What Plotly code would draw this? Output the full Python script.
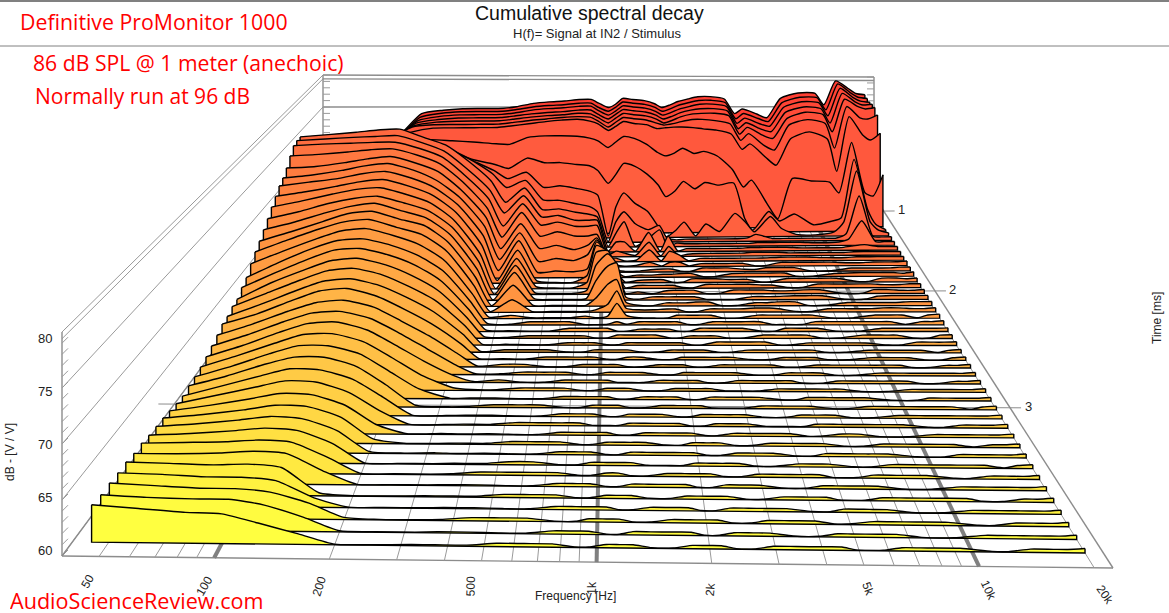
import math
import plotly.graph_objects as go

FREQ_HZ = [45,60,80,100,125,160,200,250,320,370,450,540,640,760,870,950,1060,1150,1250,1400,1600,1800,1950,2150,2350,2650,2950,3400,4000,4500,4900,5800,6500,7600,9300,11300,12500,14300,16500,18000,20000]
TIME_MS = [.78,.844,.909,.973,1.037,1.102,1.166,1.23,1.294,1.359,1.423,1.487,1.552,1.616,1.68,1.745,1.809,1.873,1.937,2.002,2.066,2.13,2.195,2.259,2.323,2.388,2.452,2.516,2.58,2.645,2.709,2.773,2.838,2.902,2.966,3.031,3.095,3.159,3.223,3.288,3.352,3.416,3.481,3.545,3.609,3.674,3.738,3.802,3.866,3.931]
DB_FLOOR = 60
# level above 60 dB, one list per time slice, back to front
S00=[4,6,8.5,11,13.9,14.4,14.6,14.6,14.6,14.8,15.3,15.5,15.6,15.8,15.8,15.2,14.5,15,15.9,15.7,15.5,15,14.4,14.8,15.3,15.7,16,16,15.6,13.3,14,13.2,12.6,15.6,16.4,16.3,14.5,18.2,17,16.2,16]
S01=[4,6,8.4,10.9,13.8,14.4,14.6,14.6,14.6,14.8,15.2,15.4,15.5,15.7,15.7,15,14.4,15,15.8,15.6,15.4,14.9,14.3,14.7,15.2,15.6,15.9,15.9,15.5,13,13.8,13,12.5,15.4,16.2,16.1,14.2,18.2,16.8,16.1,15.9]
S02=[4.5,6.5,8.8,11.2,13.8,14.4,14.6,14.6,14.6,14.8,15.2,15.4,15.5,15.7,15.7,15,14.3,14.9,15.7,15.5,15.3,14.8,14.2,14.6,15.1,15.5,15.8,15.8,15.4,12.8,13.6,12.7,12.3,15.2,16,15.8,13.8,18,16.6,16,15.8]
S03=[5,7,9.2,11.6,13.9,14.4,14.6,14.6,14.6,14.8,15.1,15.3,15.4,15.6,15.6,14.9,14.2,14.9,15.6,15.4,15.2,14.7,14.1,14.5,15,15.4,15.6,15.6,15.2,12.5,13.4,12.4,12,14.9,15.7,15.4,13.2,17.7,16.4,15.9,16]
S04=[5.5,7.5,9.7,12.1,14,14.5,14.6,14.6,14.6,14.8,15.1,15.3,15.4,15.6,15.5,14.9,14.1,14.8,15.5,15.3,15.1,14.6,14,14.4,14.9,15.3,15.4,15.4,15,12.2,13.2,12,11.5,14.5,15.4,15,12.4,17.3,16.2,15.8,16]
S05=[6,8,10.2,12.6,14.3,14.6,14.6,14.6,14.6,14.8,15.1,15.3,15.5,15.6,15.5,14.9,14,14.7,15.4,15.2,15,14.5,14.2,14.4,14.7,15,15,14.8,14.3,11.8,12.8,11,10.3,14,14.8,14.2,10.5,16.7,15,14.8,15.4]
S06=[7,9,11,13,14,14.6,14.6,14.6,14.6,14.8,15.1,15.4,15.6,15.7,15.4,15,14,14.6,15.3,15,14.8,14.2,14.3,14.4,14.4,14.3,14.1,13.9,13.3,11,11.8,9.8,8.6,12.5,13.5,12.4,7.6,15.7,13,12.2,13.2]
S07=[6,8,10.5,12.6,13.4,13.4,13.2,13,12.7,12.6,13.6,13.8,13.8,13.7,13.4,13,12,12.8,13.6,13.3,12.4,11.2,10.7,11.1,11.8,11,11.3,10.6,8.6,6,7,3.5,1.3,7.2,6.8,6.6,5,12.4,5,4.5,7.6]
S08=[7,9,11,12.6,13,12.8,12.4,11,10.2,9.6,11.1,10.4,10.4,10.1,9.9,9.2,7.3,8.6,10.2,9.8,8.6,7,5.3,6.1,7.5,6.4,7.3,6.9,7.2,2,.3,3,1.6,2.6,1,1.5,2,10.5,3.2,1,.2]
S09=[8,10,12,14,14.5,14,13,11.5,9.9,8.7,9.6,7.4,7.6,7.2,6.8,6.2,.3,4.5,6.5,5,3.8,1.5,.1,1,2.2,.2,1.9,.8,3.4,2,.7,2.9,1.2,.3,.2,.6,2,9.4,2,.8,.4]
S10=[12,13.5,15,16,16,14.7,13.5,12.2,10,8,9,6.2,6.1,5.6,5.2,4.4,.1,3,4.4,2.7,1.8,2.4,.6,.3,.4,.4,.4,.4,.4,.5,1,.4,.4,.4,.4,.4,1,6.4,.6,.5,.5]
S11=[16,16.3,16.6,16.9,17,15.8,14.7,12.5,9.5,6.5,8.5,5.4,5.5,5,4.7,4.3,.1,2,3.6,.1,1.2,2.4,.1,.5,.4,.4,.4,.4,.4,.4,.5,.5,.5,.5,.4,.5,.9,3.5,.5,.5,.5]
S12=[16,16.2,16.4,16.5,16.6,15.6,14.4,12,8.8,5.6,8,5,5.2,4.5,4.5,4.5,.1,1.4,1.4,.1,2.7,.1,2.2,.1,.4,.4,.4,.4,.4,.5,.5,.5,.5,.4,.4,.4,.6,.8,.5,.5,.5]
S13=[15.8,16,16.1,16.2,16.2,15.3,14.1,11.6,8.2,4.4,7.5,4.5,4.9,4.3,4.3,4.4,.3,.8,.5,.2,2,.1,1.4,.1,.3,.4,.4,.4,.4,.5,.5,.5,.4,.4,.4,.4,.5,.5,.5,.5,.5]
S14=[14.9,15.1,15.4,15.7,15.8,14.9,13.7,11.2,7.5,3.5,6.9,3.6,4.2,3.6,3.6,3.8,.6,.5,.1,.2,1.6,.1,1.4,.9,.1,.4,.4,.4,.4,.4,.4,.5,.5,.5,.4,.4,.5,.5,.5,.5,.5]
S15=[13.8,14,14.5,15,15.3,14.4,13.2,10.7,6.9,2.6,6,2.6,3,2.4,3,4,1.2,.3,.1,.2,.6,.1,.6,.6,.1,.4,.4,.4,.4,.05,.05,.5,.5,.5,.5,.4,.4,.5,.5,.5,.6]
S16=[13,13.4,14,14.6,14.9,14,12.6,10.3,6.3,1.8,5.4,1.5,1.9,1.6,2.4,4.4,2,.3,.1,.1,.3,.4,.4,.1,.05,.5,.5,.5,.3,.3,.5,.5,.5,.05,.05,.4,.4,.4,.4,.5,.5]
S17=[12.5,13,13.5,14.1,14.4,13.5,12.2,9.9,5.7,1,5,.7,.9,.8,1.2,4.8,3,.8,.1,.3,.3,.4,.4,.5,.5,.05,.05,.4,.5,.5,.5,.5,.05,.05,.4,.5,.5,.5,.5,.4,.6]
S18=[11.7,12.3,13,13.6,13.9,13,11.8,9.5,5.1,.4,4.4,.3,.1,.1,1,5,4.2,1.6,.1,.3,.4,.4,.05,.05,.5,.5,.5,.4,.4,.05,.05,.5,.5,.5,.5,.05,.05,.5,.5,.4,.5]
S19=[10.9,11.7,12.6,13.2,13.4,12.5,11.4,9.1,4.6,.05,4,.3,.1,.1,.8,4.8,5,2.6,.1,.4,.4,.4,.4,.1,.05,.5,.5,.5,.5,.4,.4,.05,.05,.5,.5,.5,.5,.4,.4,.5,.5]
S20=[10,10.9,12,12.6,12.9,12,11,8.8,4.3,.05,3.8,.2,.1,.1,.5,3.8,5.3,4,.1,.3,.05,.4,.5,.5,.5,.05,.05,.5,.5,.5,.4,.4,.5,.5,.05,.05,.5,.5,.4,.4,.5]
S21=[9.2,10.2,11.4,12.2,12.6,11.6,10.7,8.5,4,.05,3.6,.2,.1,.1,.2,2.5,4.4,4.8,.4,.1,.4,.4,.4,.4,.4,.05,.05,.05,.4,.4,.4,.5,.5,.5,.05,.05,.4,.5,.5,.5,.5]
S22=[8.4,9.6,10.9,11.9,12.2,11.2,10.4,8.2,3.7,.1,2.7,.1,.1,.1,.1,1,2.8,3.4,.5,.1,.05,.4,.4,.4,.5,.5,.05,.05,.4,.4,.5,.5,.05,.05,.4,.4,.4,.4,.5,.5,.5]
S23=[7.7,9.2,10.6,11.5,11.8,10.8,9.9,7.8,3.4,.1,1.6,.1,.1,.1,.1,.3,1,2.7,.5,.3,.3,.4,.4,.05,.05,.4,.4,.4,.5,.5,.4,.05,.05,.4,.4,.4,.5,.5,.4,.4,.5]
S24=[6.9,8.5,10,11,11.3,10.4,9.3,7.3,3.1,.2,.4,.1,.1,.1,.3,.1,.3,1.9,.4,.1,.05,.05,.4,.4,.4,.4,.05,.05,.4,.4,.4,.4,.4,.05,.05,.4,.4,.4,.05,.4,.5]
S25=[5.9,7.8,9.5,10.5,10.7,9.9,8.7,6.8,2.9,.2,.1,.4,.4,.4,.05,.05,.1,.4,.1,.4,.4,.4,.4,.05,.05,.4,.4,.4,.4,.05,.05,.05,.4,.4,.4,.4,.4,.05,.4,.4,.5]
S26=[5.4,7.2,8.9,10,10.2,9.4,8.2,6.3,2.7,.2,.1,.05,.05,.4,.4,.4,.4,.05,.05,.3,.3,.3,.05,.05,.4,.4,.4,.4,.05,.05,.4,.4,.4,.05,.05,.4,.4,.4,.4,.4,.45]
S27=[4.7,6.7,8.3,9.4,9.7,8.9,7.6,5.8,2.5,.2,.1,.3,.3,.3,.3,.05,.05,.4,.4,.4,.4,.05,.05,.3,.3,.3,.05,.05,.4,.4,.4,.4,.05,.05,.4,.4,.4,.05,.05,.4,.45]
S28=[4.6,6.2,7.8,8.9,9.2,8.4,7,5.3,2.3,.1,.1,.05,.05,.3,.3,.3,.05,.05,.3,.3,.3,.3,.3,.05,.05,.4,.4,.4,.4,.05,.05,.3,.3,.3,.3,.05,.05,.4,.4,.4,.45]
S29=[4.2,5.7,7.3,8.4,8.7,7.9,6.5,4.8,2.1,.1,.3,.3,.3,.05,.05,.3,.3,.3,.3,.05,.05,.3,.3,.3,.3,.05,.05,.3,.3,.3,.3,.3,.05,.05,.3,.3,.3,.3,.05,.3,.4]
S30=[4.1,5.3,6.9,8,8.3,7.4,5.9,4.2,1.8,.1,.1,.05,.3,.3,.3,.3,.05,.05,.3,.3,.05,.05,.3,.3,.3,.3,.3,.05,.05,.3,.3,.3,.05,.05,.3,.3,.3,.05,.05,.3,.4]
S31=[3.6,4.9,6.4,7.4,7.7,6.9,5.3,3.6,1.4,.1,.3,.3,.05,.05,.3,.3,.3,.3,.05,.05,.3,.3,.3,.05,.05,.3,.3,.3,.3,.05,.05,.3,.3,.3,.3,.3,.05,.05,.3,.3,.4]
S32=[3.2,4.5,6,7,7.2,6.4,4.8,3,1,.1,.1,.3,.3,.3,.05,.05,.3,.3,.3,.3,.05,.05,.3,.3,.3,.3,.3,.05,.05,.3,.3,.3,.05,.05,.3,.3,.3,.3,.3,.3,.4]
S33=[2.8,4.1,5.6,6.6,6.8,5.9,4.2,2.4,.7,.1,.3,.05,.05,.3,.3,.3,.3,.05,.05,.05,.3,.3,.3,.3,.05,.05,.3,.3,.3,.3,.05,.05,.3,.3,.3,.3,.05,.05,.3,.3,.4]
S34=[2.5,3.8,5.2,6.2,6.3,5.4,3.6,1.7,.3,.1,.1,.3,.3,.3,.05,.05,.3,.3,.3,.05,.05,.3,.3,.3,.3,.05,.05,.05,.3,.3,.3,.3,.3,.05,.05,.3,.3,.3,.3,.3,.4]
S35=[2.3,3.5,4.9,5.8,5.8,4.9,3,1.1,.05,.1,.1,.05,.05,.3,.3,.3,.3,.05,.05,.3,.3,.3,.05,.05,.3,.3,.3,.3,.05,.05,.3,.3,.3,.3,.05,.05,.3,.3,.3,.3,.4]
S36=[2.2,3.3,4.6,5.4,5.4,4.4,2.4,.2,.05,.1,.3,.3,.3,.05,.05,.3,.3,.3,.05,.05,.3,.3,.3,.3,.05,.05,.05,.3,.3,.3,.3,.05,.05,.3,.3,.3,.3,.3,.05,.3,.4]
S37=[2,3.1,4.2,5,4.9,3.9,2,.05,.05,.1,.1,.05,.05,.3,.3,.3,.05,.05,.3,.3,.3,.05,.05,.3,.3,.3,.3,.05,.05,.3,.3,.3,.05,.05,.3,.3,.3,.3,.3,.3,.4]
S38=[2.1,3,3.9,4.6,4.5,3.4,1.5,.05,.05,.1,.1,.3,.3,.3,.3,.05,.05,.05,.3,.3,.3,.3,.05,.05,.3,.3,.3,.05,.05,.05,.3,.3,.3,.3,.3,.05,.05,.3,.3,.3,.4]
S39=[2.3,2.9,3.6,4.2,4.1,3,1,.05,.1,.05,.1,.05,.05,.3,.3,.3,.3,.05,.05,.3,.3,.3,.3,.05,.05,.3,.3,.3,.3,.05,.05,.3,.3,.05,.05,.3,.3,.3,.3,.3,.4]
S40=[2.5,2.9,3.4,3.9,3.8,2.7,.5,.05,.05,.1,.1,.3,.3,.3,.05,.05,.3,.3,.3,.3,.05,.05,.3,.3,.3,.05,.05,.3,.3,.3,.3,.05,.05,.3,.3,.3,.3,.05,.3,.3,.4]
S41=[2.6,2.9,3.3,3.7,3.5,2.3,.2,.05,.1,.05,.1,.05,.05,.3,.3,.3,.05,.05,.3,.3,.3,.3,.3,.05,.05,.3,.3,.3,.05,.05,.3,.3,.3,.3,.05,.05,.3,.3,.3,.3,.4]
S42=[2.7,2.9,3.2,3.5,3.3,2,.05,.05,.05,.1,.1,.3,.3,.05,.05,.3,.3,.3,.3,.05,.05,.05,.3,.3,.3,.3,.05,.05,.3,.3,.3,.05,.05,.3,.3,.3,.3,.3,.05,.3,.4]
S43=[2.9,3,3.1,3.3,3.1,1.6,.05,.05,.05,.1,.3,.3,.3,.3,.05,.05,.3,.3,.05,.05,.3,.3,.3,.3,.05,.05,.3,.3,.3,.3,.05,.05,.3,.3,.3,.05,.05,.3,.3,.3,.4]
S44=[2.9,2.9,3,3.2,3,1.3,.05,.05,.05,.1,.1,.05,.05,.3,.3,.3,.05,.05,.3,.3,.3,.3,.05,.05,.3,.3,.3,.05,.05,.3,.3,.3,.3,.05,.05,.3,.3,.3,.3,.3,.4]
S45=[3.1,3,2.9,3,2.7,.3,.05,.05,.1,.1,.1,.3,.3,.3,.05,.05,.3,.3,.3,.05,.05,.3,.3,.3,.3,.05,.05,.3,.3,.3,.05,.05,.3,.3,.3,.3,.05,.05,.3,.3,.4]
S46=[3.1,3,2.8,2.8,2.5,.9,.05,.05,.05,.1,.1,.05,.05,.3,.3,.3,.3,.05,.05,.3,.3,.3,.05,.05,.3,.3,.3,.3,.05,.05,.3,.3,.3,.05,.05,.3,.3,.3,.3,.3,.4]
S47=[3.2,3,2.8,2.8,2.5,1.5,.2,.05,.05,.1,.3,.3,.3,.05,.05,.3,.3,.3,.05,.05,.3,.3,.3,.3,.05,.05,.3,.3,.3,.05,.05,.3,.3,.3,.3,.05,.05,.3,.3,.3,.4]
S48=[3.2,3,2.9,2.9,2.4,1.3,.1,.05,.05,.1,.1,.05,.05,.3,.3,.3,.05,.05,.3,.3,.3,.3,.05,.05,.3,.3,.3,.05,.05,.3,.3,.3,.3,.05,.05,.3,.3,.3,.3,.3,.4]
S49=[3.4,3.1,2.8,2.7,1.9,.95,.05,.05,.1,.1,.1,.3,.3,.3,.05,.05,.3,.3,.3,.05,.05,.3,.3,.3,.05,.05,.3,.3,.3,.3,.05,.05,.3,.3,.3,.05,.05,.3,.3,.3,.4]
SLICES=[S00,S01,S02,S03,S04,S05,S06,S07,S08,S09,S10,S11,S12,S13,S14,S15,S16,S17,S18,S19,S20,S21,S22,S23,S24,S25,S26,S27,S28,S29,S30,S31,S32,S33,S34,S35,S36,S37,S38,S39,S40,S41,S42,S43,S44,S45,S46,S47,S48,S49]

FREQ_TICKS=[50,60,70,80,90,100,200,300,400,500,600,700,800,900,1000,2000,3000,4000,5000,6000,7000,8000,9000,10000,20000]
FREQ_LABEL_HZ=[50,100,200,500,1000,2000,5000,10000,20000]
FREQ_LABEL_TXT=["50","100","200","500","1k","2k","5k","10k","20k"]
DB_LABELS=[80,75,70,65,60]
TIME_LABELS=[1,2,3]
TIME_TICK_POS=[1,2.04,3.08]

# styling of the tick labels
ANGLES=[-60,-60,-72,-88,-90,-85,70,65,55]
OFFX=[-11,-10,-10,-11,-5,-1,4,9,11]
OFFY=[25,28,27,26,26,26,24,24,27]

# floor plane and perspective of the 3-D box
F0,F1=40,22400
T0,T1=.76,4.0
def persp(t):
    v=(t-T0)/(T1-T0)
    return v/(v+(1-v)*1.907)
def proj(f,t,db=DB_FLOOR):
    u=math.log10(f/F0)/math.log10(F1/F0)
    p=persp(t)
    lx,ly=323-261*p,203+353*p
    rx,ry=874+239*p,196+372*p
    return lx+u*(rx-lx), ly+u*(ry-ly)-(db-DB_FLOOR)*(6.4+4.8*p)
def wall(f,db):
    u=math.log10(f/F0)/math.log10(F1/F0)
    z=db-DB_FLOOR
    return 323+u*551, (1-u)*(203-6.4*z)+u*(196-5.95*z)

STOPS=[(0,(255,62,50)),(5,(255,85,60)),(10,(255,100,64)),(15,(255,125,64)),(20,(255,140,64)),(25,(255,160,66)),(30,(255,180,70)),(35,(255,195,70)),(40,(255,215,68)),(45,(255,238,64)),(49,(255,255,64))]
def colour(i):
    for (a,ca),(b,cb) in zip(STOPS,STOPS[1:]):
        if a<=i<=b:
            k=(i-a)/(b-a)
            return "rgb(%d,%d,%d)"%tuple(round(ca[j]+k*(cb[j]-ca[j])) for j in range(3))

fig=go.Figure()
def seg(pairs,color="#8c8c8c",width=1):
    xs,ys=[],[]
    for a,b in pairs:
        xs+= [a[0],b[0],None]; ys+=[a[1],b[1],None]
    fig.add_trace(go.Scatter(x=xs,y=ys,mode="lines",line=dict(color=color,width=width),hoverinfo="skip",showlegend=False))

# walls
dbs=[80,75,70,65,60]
seg([(proj(F0,T1,d),proj(F0,T0,d)) for d in dbs]+[(proj(F0,T1,79.4),proj(F0,T0,79.4))],"#9a9a9a",1)
seg([(wall(F0,d),wall(F1,d)) for d in dbs]+[(wall(F0,79.4),wall(F1,79.4))],"#8c8c8c",1.4)
seg([(wall(F0,80),wall(F0,60)),(wall(F1,80),wall(F1,60)),(proj(F0,T1,80),proj(F0,T1,60))],"#8c8c8c",1.4)
left_ticks=[];right_ticks=[];front_ticks=[]
for d in range(60,81):
    a=wall(F0,d); left_ticks.append((a,(a[0]+7,a[1])))
    b=wall(F1,d); right_ticks.append(((b[0]-7,b[1]),b))
    c=proj(F0,T1,d); front_ticks.append((c,(c[0]+6,c[1]-6)))
seg(left_ticks+right_ticks+front_ticks,"#9a9a9a",1)
# floor
seg([(proj(F0,T1),proj(F1,T1)),(proj(F0,T1),proj(F0,T0)),(proj(F1,T1),proj(F1,T0))],"#8c8c8c",1.4)
seg([(proj(f,T0),proj(f,T1)) for f in FREQ_TICKS if f not in (100,1000,10000)],"#9a9a9a",1)
seg([(proj(f,T0),proj(f,T1)) for f in (100,1000,10000)],"#808080",4)
tk=[]
for t in TIME_TICK_POS:
    a=proj(F0,t);b=proj(F1,t)
    tk.append(((a[0]-16,a[1]),(b[0]+11,b[1])))
seg(tk,"#8c8c8c",1)

# slices, back to front: outline of base and ends, then the smoothed top filled down to it
for i,(t,row) in enumerate(zip(TIME_MS,SLICES)):
    top=[proj(f,t,DB_FLOOR+v) for f,v in zip(FREQ_HZ,row)]
    b0=proj(FREQ_HZ[0],t);b1=proj(FREQ_HZ[-1],t)
    fig.add_trace(go.Scatter(x=[top[0][0],b0[0],b1[0],top[-1][0]],y=[top[0][1],b0[1],b1[1],top[-1][1]],mode="lines",line=dict(color="#000",width=1.4),hoverinfo="skip",showlegend=False))
    fig.add_trace(go.Scatter(x=[q[0] for q in top],y=[q[1] for q in top],mode="lines",fill="tonexty",fillcolor=colour(i),line=dict(color="#000",width=1.4,shape="spline",smoothing=0.6),hoverinfo="skip",showlegend=False,name="%.2f ms"%t))

ann=[]
def txt(x,y,s,size=12,color="#222",angle=0,family="Liberation Sans",xa="center",height=None):
    d=dict(x=x,y=y,text=s,showarrow=False,xref="x",yref="y",xanchor=xa,yanchor="middle",textangle=angle,font=dict(family=family,size=size,color=color))
    if height: d["height"]=height
    ann.append(d)
for d,y in zip(DB_LABELS,[338,391,444,497,550]):
    txt(45,y,str(d),13)
for f,s,a,dx,dy in zip(FREQ_LABEL_HZ,FREQ_LABEL_TXT,ANGLES,OFFX,OFFY):
    q=proj(f,T1)
    txt(q[0]+dx,q[1]+dy,s,12,"#222",a)
for t,l in zip(TIME_TICK_POS,TIME_LABELS):
    q=proj(F1,t)
    txt(q[0]+18,q[1]-1,str(l),13)
txt(10,452,"dB - [V / V]",12,"#222",-90)
txt(1157,318,"Time [ms]",12,"#222",-90)
txt(575,596,"Frequency [Hz]",12)
txt(589,13,"Cumulative spectral decay",19.5,"#111")
txt(597,33,"H(f)= Signal at IN2 / Stimulus",13,"#222")
RED="#ff0000"
FF="Open Sans"
txt(18,21,"Definitive ProMonitor 1000",21.3,RED,0,FF,"left")
txt(31,62,"86 dB SPL @ 1 meter (anechoic)",21.2,RED,0,FF,"left")
txt(33,96,"Normally run at 96 dB",21,RED,0,FF,"left")
txt(8,600,"AudioScienceReview.com",21.6,RED,0,FF,"left",height=24)

shapes=[dict(type="line",xref="x",yref="y",x0=0,x1=1169,y0=46,y1=46,line=dict(color="#808080",width=1)),
        dict(type="line",xref="x",yref="y",x0=0,x1=1169,y0=1,y1=1,line=dict(color="#808080",width=2))]
fig.update_layout(width=1169,height=613,margin=dict(l=0,r=0,t=0,b=0),plot_bgcolor="white",paper_bgcolor="white",showlegend=False,
    xaxis=dict(range=[0,1169],visible=False,fixedrange=True),
    yaxis=dict(range=[613,0],visible=False,fixedrange=True),
    annotations=ann,shapes=shapes)
fig.write_html("out.html",config={"displayModeBar":False},post_script="document.body.style.margin='0';document.body.style.overflow='hidden';")
